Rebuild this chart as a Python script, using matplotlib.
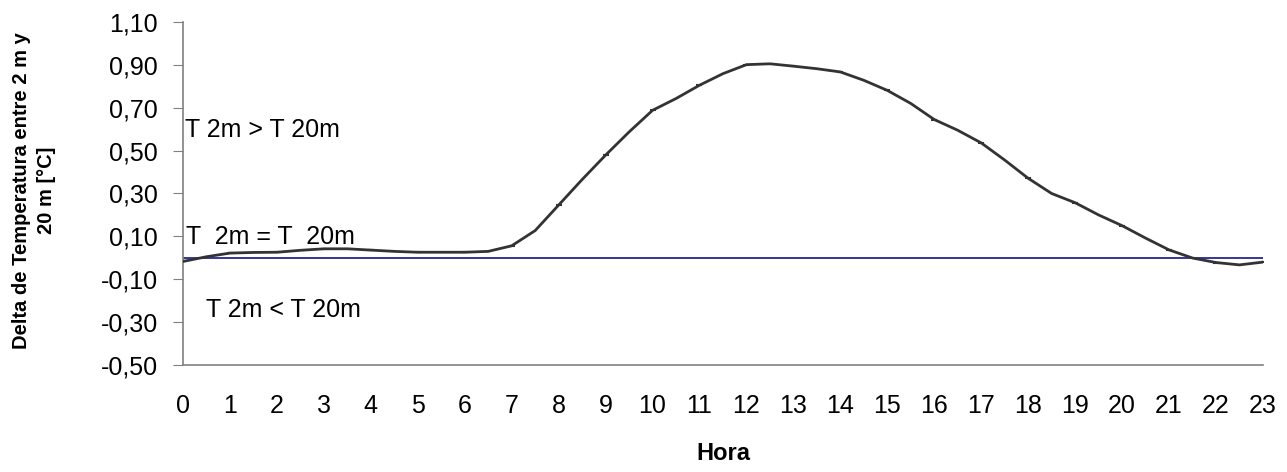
import matplotlib
matplotlib.use('Agg')
import numpy as np
import matplotlib.pyplot as plt
from matplotlib.ticker import FuncFormatter

# datos cada media hora
hora = [i * 0.5 for i in range(47)]
delta = [-0.017, 0.005, 0.022, 0.025, 0.026, 0.035, 0.042, 0.042, 0.036, 0.030,
         0.026, 0.026, 0.026, 0.030, 0.056, 0.127, 0.246, 0.365, 0.479, 0.587,
         0.688, 0.743, 0.805, 0.859, 0.901, 0.905, 0.894, 0.882, 0.867, 0.828,
         0.781, 0.720, 0.645, 0.595, 0.536, 0.456, 0.371, 0.300, 0.257, 0.200,
         0.150, 0.092, 0.037, -0.001, -0.022, -0.033, -0.020]
y_ticks = [-0.5, -0.3, -0.1, 0.1, 0.3, 0.5, 0.7, 0.9, 1.1]
x_ticks = list(range(24))

plt.rcParams['font.family'] = ['Liberation Sans', 'DejaVu Sans']

fig = plt.figure(figsize=(12.87, 4.72), dpi=100)
ax = fig.add_axes([0.1422, 0.2267, 0.8391, 0.7267])

ax.axhline(0, color='#000080', lw=1.1, zorder=2)
ax.plot(hora, delta, color='#333333', lw=2, marker='_', markersize=5,
        markeredgewidth=1.5, markevery=2, zorder=3)

ax.set_xlim(0, 23)
ax.set_ylim(-0.5, 1.1)
ax.set_yticks(y_ticks)
ax.set_xticks(x_ticks)
ax.yaxis.set_major_formatter(FuncFormatter(lambda v, p: f"{v:.2f}".replace('.', ',')))

for s in ['top', 'right']:
    ax.spines[s].set_visible(False)
for s in ['left', 'bottom']:
    ax.spines[s].set_color('#808080')
    ax.spines[s].set_linewidth(1.2)

ax.tick_params(axis='y', length=7, color='#808080', labelsize=18, pad=11)
ax.tick_params(axis='x', length=0, labelsize=18, pad=21)

ax.text(0.04, 0.595, 'T 2m > T 20m', fontsize=18, va='center', ha='left')
ax.text(0.06, 0.098, 'T  2m = T  20m', fontsize=18, va='center', ha='left')
ax.text(0.5, -0.242, 'T 2m < T 20m', fontsize=18, va='center', ha='left')

ax.set_ylabel('Delta de Temperatura entre 2 m y\n20 m [°C]', fontsize=14.5,
              fontweight='bold', linespacing=1.4, va='center')
ax.yaxis.set_label_coords(-0.138, 0.51)
ax.set_xlabel('Hora', fontsize=17, fontweight='bold', va='center')
ax.xaxis.set_label_coords(0.5, -0.257)

fig.savefig('out.png', dpi=100)
